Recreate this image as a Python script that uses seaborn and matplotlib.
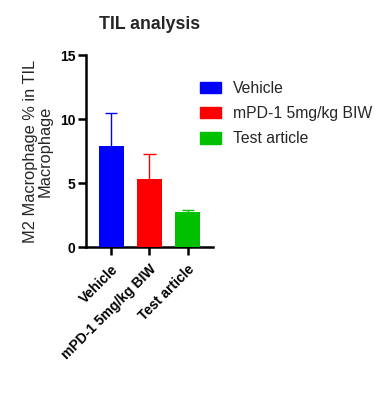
import numpy as np
import pandas as pd
import matplotlib
matplotlib.use("Agg")
import matplotlib.pyplot as plt
import seaborn as sns

# data
groups = ["Vehicle", "mPD-1 5mg/kg BIW", "Test article"]
means = [7.9, 5.35, 2.75]
upper_err = [2.6, 1.95, 0.12]
colors = ["#0000ff", "#ff0000", "#00c000"]

sns.set_style("ticks")
plt.rcParams["font.family"] = ["Liberation Sans", "DejaVu Sans"]

df = pd.DataFrame({"group": groups, "value": means})

fig = plt.figure(figsize=(3.88, 4.05), dpi=100)
ax = fig.add_axes([0.2216, 0.39, 0.327, 0.474])

sns.barplot(data=df, x="group", y="value", hue="group", palette=colors,
            width=0.65, errorbar=None, legend=False, ax=ax, saturation=1,
            linewidth=0, zorder=3)

# upper-only error bars (whisker starts inside the bar, hidden behind it)
for i, (m, e, c) in enumerate(zip(means, upper_err, colors)):
    ax.vlines(i, m * 0.5, m + e, color=c, lw=1, zorder=2)
    ax.hlines(m + e, i - 0.16, i + 0.16, color=c, lw=1, zorder=2)

ax.set_ylim(0, 15)
ax.set_yticks([0, 5, 10, 15])
ax.set_xlim(-0.66, 2.66)
ax.set_title("TIL analysis", fontsize=12.8, fontweight="bold", pad=19)
ax.set_xlabel("")
ax.set_ylabel("M2 Macrophage % in TIL\nMacrophage", fontsize=11.8,
              labelpad=5, linespacing=1.0)

for s in ["top", "right"]:
    ax.spines[s].set_visible(False)
for s in ["left", "bottom"]:
    ax.spines[s].set_linewidth(1.8)
    ax.spines[s].set_color("black")
ax.tick_params(axis="both", width=1.8, length=6, colors="black")
ax.tick_params(axis="y", labelsize=10, pad=1.5)
ax.tick_params(axis="x", labelsize=10, pad=5)
for lab in ax.get_yticklabels():
    lab.set_fontweight("bold")
ax.set_xticks(range(len(groups)))
ax.set_xticklabels(groups, rotation=45, ha="right", rotation_mode="anchor",
                   fontweight="bold")

handles = [plt.Rectangle((0, 0), 1, 1, color=c) for c in colors]
fig.legend(handles, groups, loc="upper left", bbox_to_anchor=(0.48, 0.835),
           frameon=False, fontsize=11.3, handlelength=1.3, handleheight=0.75,
           labelspacing=0.65, handletextpad=0.75)

fig.savefig("out.png", dpi=100)
